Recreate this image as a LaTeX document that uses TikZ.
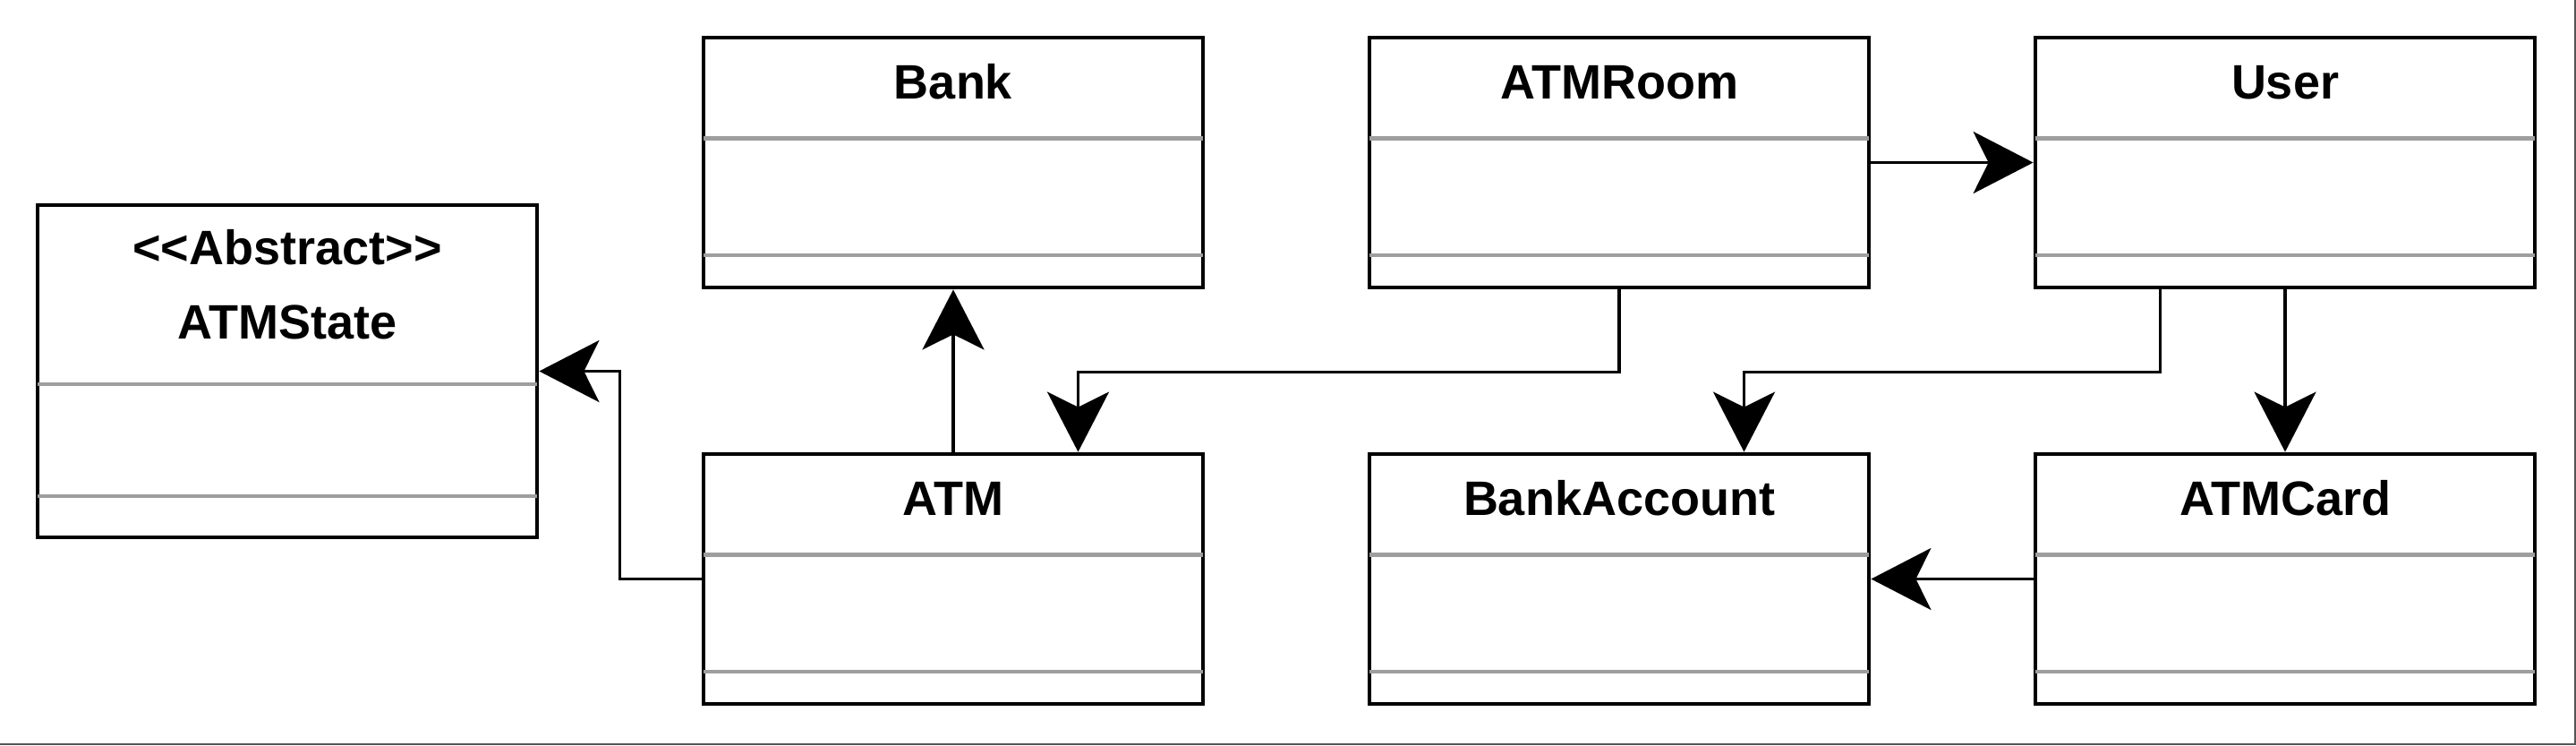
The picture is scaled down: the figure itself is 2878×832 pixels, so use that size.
\documentclass[tikz,border=0pt]{standalone}
\usepackage{fontspec}
\newfontfamily\classfont{Liberation Sans}
\usetikzlibrary{arrows.meta}
\definecolor{sepgrey}{RGB}{158,158,158}
\definecolor{edgegrey}{RGB}{85,85,85}
\tikzset{
  umlclass/.style={draw,line width=2.4pt,minimum width=279pt,minimum height=139.5pt,inner sep=0pt},
  umltitle/.style={anchor=base,inner sep=0pt,font={\classfont\bfseries\fontsize{27}{32}\selectfont}},
  sepline/.style={sepgrey,line width=2.1pt,shorten <=1.2pt,shorten >=1.2pt},
  assoc/.style={line width=1.75pt,-{Stealth[length=33.5pt,width=34.5pt,inset=8.5pt]}}
}

\begin{document}
\begin{tikzpicture}[x=0.5pt,y=-0.5pt]
\useasboundingbox (0,0) rectangle (2878,832);
%classes
\foreach \nm/\x/\y/\txt in {bank/1065/181.5/Bank,atmroom/1809/181.5/ATMRoom,user/2553/181.5/User,atm/1065/646.5/ATM,bankaccount/1809/646.5/BankAccount,atmcard/2553/646.5/ATMCard}{
  \node[umlclass] (\nm) at (\x,\y) {};
  \node[umltitle] (\nm-t) at ([yshift=-35.5pt]\nm.north) {\txt};
  \draw[sepline] ([yshift=-57.4pt]\nm.north west) -- ([yshift=-57.4pt]\nm.north east);
  \draw[sepline] ([yshift=-122.6pt]\nm.north west) -- ([yshift=-122.6pt]\nm.north east);
}
\node[umlclass,minimum height=185.5pt] (atmstate) at (321,414.5) {}; %abstract class
\node[umltitle] (atmstate-s) at ([yshift=-34.5pt]atmstate.north) {<<Abstract>>};
\node[umltitle] (atmstate-t) at ([yshift=-76pt]atmstate.north) {ATMState};
\draw[sepline] ([yshift=-101pt]atmstate.north west) -- ([yshift=-101pt]atmstate.north east);
\draw[sepline] ([yshift=-163.5pt]atmstate.north west) -- ([yshift=-163.5pt]atmstate.north east);
%associations
\draw[assoc] (atm.west) -- ++(-91,0) |- (atmstate.east);
\draw[assoc] (atm.north) -- (bank.south);
\draw[assoc] (atmroom.south) -- ++(0,92) -| ([xshift=69.75pt]atm.north);
\draw[assoc] (atmroom.east) -- (user.west);
\draw[assoc] ([xshift=-69.75pt]user.south) -- ++(0,92) -| ([xshift=69.75pt]bankaccount.north);
\draw[assoc] (user.south) -- (atmcard.north);
\draw[assoc] (atmcard.west) -- (bankaccount.east);
%page edge
\draw[edgegrey,line width=0.8pt] (0,831.2) -- (2876.8,831.2) -- (2876.8,0);
\end{tikzpicture}
\end{document}
